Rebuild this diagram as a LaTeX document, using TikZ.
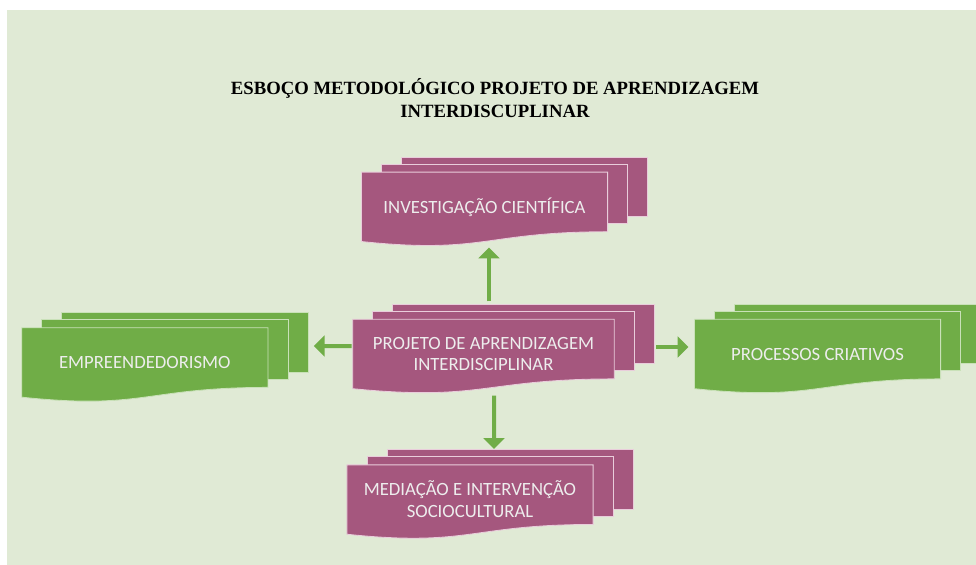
\documentclass[tikz,border=0pt]{standalone}
\usepackage{fontspec}
\setmainfont{Carlito}
\newfontfamily\titlefont{Liberation Serif}
\usetikzlibrary{arrows.meta,positioning,calc}

\definecolor{panelbg}{HTML}{E0EAD5}
\definecolor{pinkfill}{HTML}{A5577E}
\definecolor{pinkline}{HTML}{E9CDDB}
\definecolor{greenfill}{HTML}{70AD47}
\definecolor{greenline}{HTML}{C9E1B8}
\definecolor{linkgreen}{HTML}{70AD47}

\pgfdeclarelayer{background}
\pgfdeclarelayer{docs}
\pgfsetlayers{background,docs,main}

\tikzset{
  docbox/.style={minimum width=6.14cm, minimum height=1.72cm, inner sep=0pt,
    align=center, text=white!93!black, font=\fontsize{13.3}{15.6}\selectfont},
  link/.style={draw=linkgreen, line width=0.1cm,
    -{Triangle[width=0.52cm,length=0.27cm]}}
}

% three stacked documents behind a node
\newcommand{\multidoc}[3]{%
  \begin{pgfonlayer}{docs}
    \foreach \dx/\dy in {1/0.375, 0.5/0.2}{
      \draw[#3, fill=#2, line width=0.6pt]
        ($(#1.north west)+(\dx,\dy)$) rectangle ($(#1.north east)!0.859!(#1.south east)+(\dx,\dy)$);
    }
    \draw[#3, fill=#2, line width=0.6pt]
      (#1.north west) -- (#1.north east) -- ($(#1.north east)!0.859!(#1.south east)$)
      .. controls ($(#1.north)!0.859!(#1.south)$) and ($(#1.north)!1.186!(#1.south)$) .. (#1.south west)
      -- cycle;
  \end{pgfonlayer}}

\begin{document}
\begin{tikzpicture}
	\useasboundingbox (0,0) rectangle (24.4,-14.125);
	\begin{pgfonlayer}{background}
		\fill[panelbg] (0.175,-0.25) rectangle (24.4,-14.125);
	\end{pgfonlayer}

	\node[align=center, font=\titlefont\bfseries\fontsize{13.3}{16.4}\selectfont] (title) at (12.375,-2.4625)
		{ESBOÇO METODOLÓGICO PROJETO DE APRENDIZAGEM\\INTERDISCUPLINAR};

	\node[docbox, minimum width=6.525cm] (pai) at (12.0875,-8.85) {PROJETO DE APRENDIZAGEM\\INTERDISCIPLINAR};
	\node[docbox] (inv) [above=1.945cm of pai, xshift=0.025cm]  {INVESTIGAÇÃO CIENTÍFICA};
	\node[docbox] (emp) [left=2.12cm of pai, yshift=-0.2125cm]  {EMPREENDEDORISMO};
	\node[docbox] (pro) [right=2.005cm of pai]                  {PROCESSOS CRIATIVOS};
	\node[docbox] (med) [below=1.905cm of pai, xshift=-0.3375cm] {MEDIAÇÃO E INTERVENÇÃO\\SOCIOCULTURAL};

	\multidoc{pai}{pinkfill}{pinkline}
	\multidoc{inv}{pinkfill}{pinkline}
	\multidoc{med}{pinkfill}{pinkline}
	\multidoc{emp}{greenfill}{greenline}
	\multidoc{pro}{greenfill}{greenline}

	\draw[link] ([xshift=0.1375cm,yshift=0.45cm]pai.north) -- ([xshift=0.1125cm,yshift=-0.15cm]inv.south);
	\draw[link] ([xshift=-0.025cm,yshift=0.2cm]pai.west) -- ([xshift=1.15cm,yshift=0.4125cm]emp.east);
	\draw[link] ([xshift=1.05cm,yshift=0.175cm]pai.east) -- ([xshift=-0.15cm,yshift=0.175cm]pro.west);
	\draw[link] ([xshift=0.2625cm,yshift=-0.175cm]pai.south) -- ([xshift=0.6cm,yshift=0.4cm]med.north);
\end{tikzpicture}
\end{document}
